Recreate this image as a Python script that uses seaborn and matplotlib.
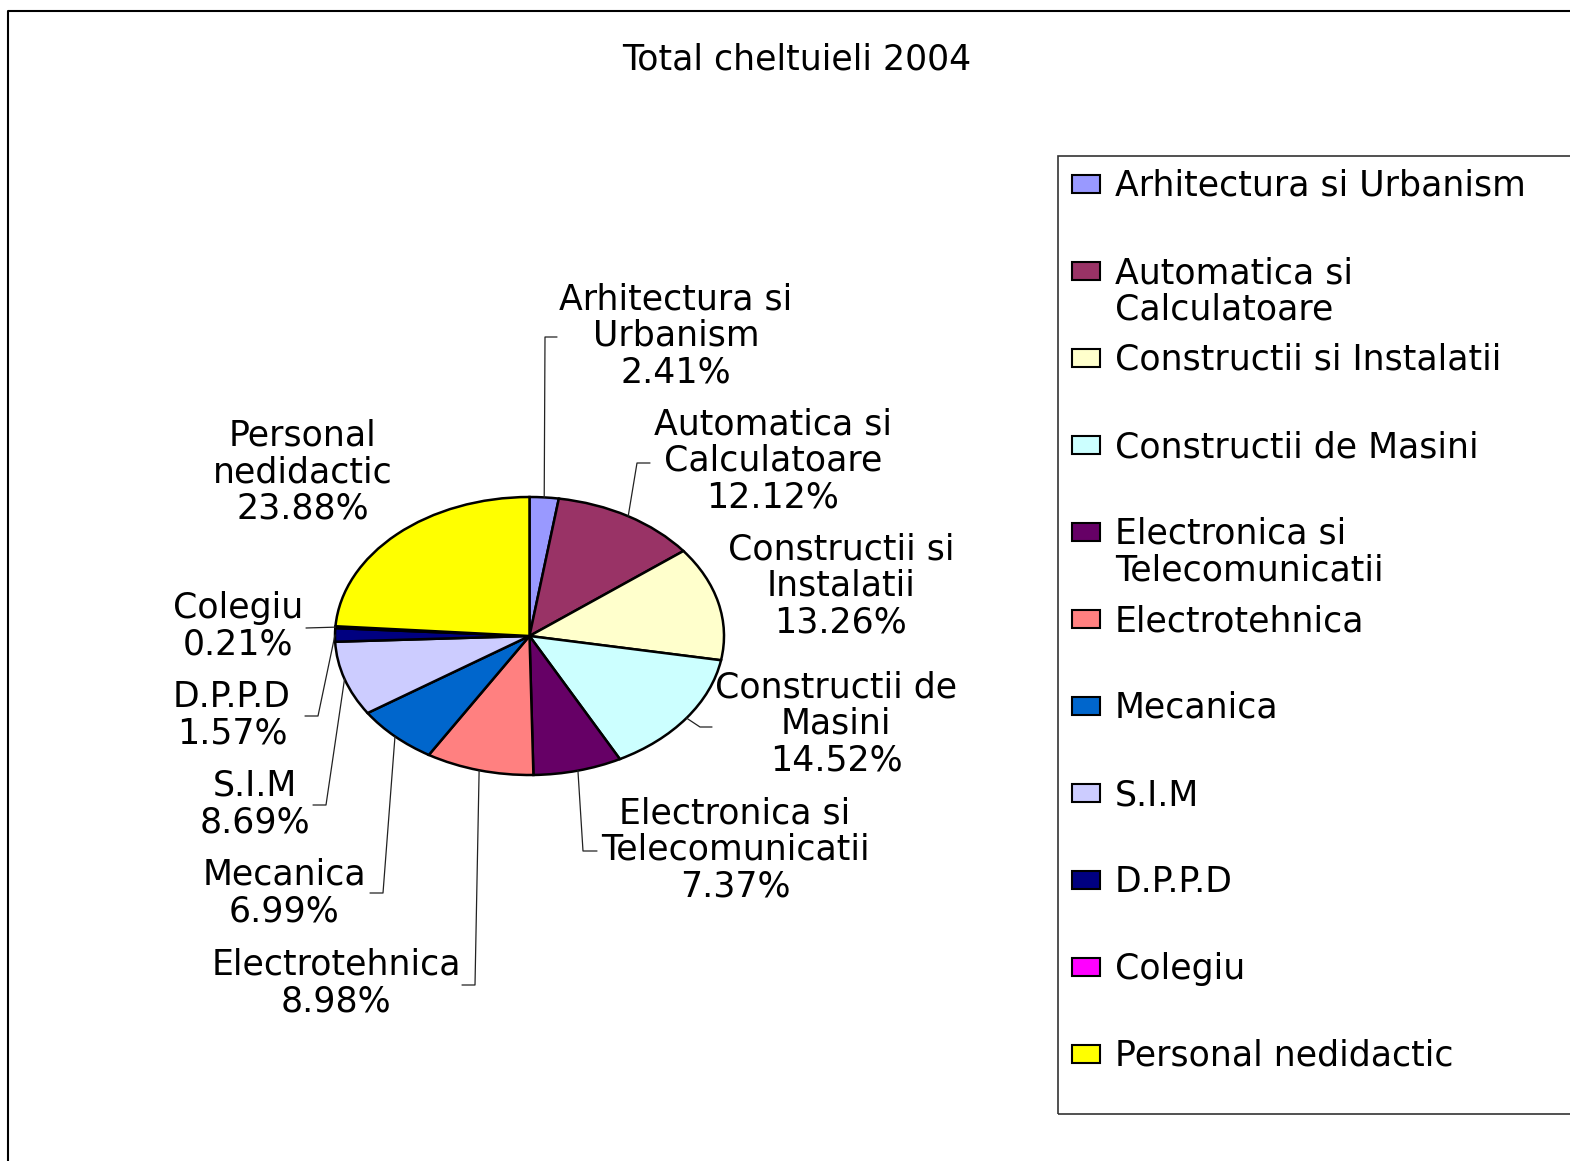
import matplotlib
matplotlib.use("Agg")
import matplotlib.pyplot as plt
import seaborn as sns
import numpy as np
from matplotlib.lines import Line2D
from matplotlib.patches import Rectangle

# ============================
# Date
# ============================
categories = [
    "Arhitectura si Urbanism",
    "Automatica si Calculatoare",
    "Constructii si Instalatii",
    "Constructii de Masini",
    "Electronica si Telecomunicatii",
    "Electrotehnica",
    "Mecanica",
    "S.I.M",
    "D.P.P.D",
    "Colegiu",
    "Personal nedidactic",
]
percent = [2.41, 12.12, 13.26, 14.52, 7.37, 8.98, 6.99, 8.69, 1.57, 0.21, 23.88]

# etichete pe grafic (text cu rupere de rand)
pie_labels = [
    "Arhitectura si\nUrbanism",
    "Automatica si\nCalculatoare",
    "Constructii si\nInstalatii",
    "Constructii de\nMasini",
    "Electronica si\nTelecomunicatii",
    "Electrotehnica",
    "Mecanica",
    "S.I.M",
    "D.P.P.D",
    "Colegiu",
    "Personal\nnedidactic",
]
legend_labels = [
    "Arhitectura si Urbanism",
    "Automatica si\nCalculatoare",
    "Constructii si Instalatii",
    "Constructii de Masini",
    "Electronica si\nTelecomunicatii",
    "Electrotehnica",
    "Mecanica",
    "S.I.M",
    "D.P.P.D",
    "Colegiu",
    "Personal nedidactic",
]

# paleta clasica Excel
palette = ["#9999FF", "#993366", "#FFFFCC", "#CCFFFF", "#660066", "#FF8080",
           "#0066CC", "#CCCCFF", "#000080", "#FF00FF", "#FFFF00"]

# ============================
# Layout (pixeli, origine stanga-sus)
# ============================
W, H = 1570, 1161
label_pos = [(676, 336), (773, 461), (841, 586), (836, 724), (735, 850),
             (336, 983), (284, 893), (255, 804), (232, 715), (238, 626),
             (303, 472)]
# punct de cot si capat pentru liniile de legatura (None = fara linie)
leaders = [((545, 337), (557, 337)),
           ((637, 463), (650, 463)),
           None,
           ((700, 727), (712, 727)),
           ((583, 851), (597, 851)),
           ((475, 985), (462, 985)),
           ((383, 893), (370, 893)),
           ((326, 805), (313, 805)),
           ((318, 716), (305, 716)),
           ((306, 628), (306, 628)),
           None]


def px(x, y):
    """Pixel (stanga-sus) -> coordonate figura"""
    return x / W, 1 - y / H


sns.set_style("white")
plt.rcParams['font.family'] = ['DejaVu Sans']
plt.rcParams['text.color'] = 'black'
FS = 25
LS = 1.08

fig = plt.figure(figsize=(W / 100, H / 100), dpi=100)

# elipsa placintei: centru (529.5, 636), raze 194.5 x 139
cx, cy, rx, ry = 529.5, 636, 194.5, 139
ax = fig.add_axes([(cx - rx) / W, 1 - (cy + ry) / H, 2 * rx / W, 2 * ry / H])
wedges, _ = ax.pie(percent, colors=palette, startangle=90, counterclock=False,
                   wedgeprops=dict(edgecolor='black', linewidth=1.8))
ax.set_aspect('auto')
ax.set_xlim(-1, 1)
ax.set_ylim(-1, 1)
ax.axis('off')

to_fig = fig.transFigure.inverted()
for w, lab, p, pos, ld in zip(wedges, pie_labels, percent, label_pos, leaders):
    fig.text(*px(*pos), f"{lab}\n{p:.2f}%", ha='center', va='center',
             fontsize=FS, linespacing=LS, multialignment='center', color='black')
    if ld is None:
        continue
    mid = np.deg2rad((w.theta1 + w.theta2) / 2)
    start = to_fig.transform(ax.transData.transform((np.cos(mid), np.sin(mid))))
    elbow = px(*ld[0])
    end = px(*ld[1])
    fig.add_artist(Line2D([start[0], elbow[0], end[0]], [start[1], elbow[1], end[1]],
                          transform=fig.transFigure, color='#222222', linewidth=0.9))

# titlu
fig.text(*px(797, 60), "Total cheltuieli 2004", ha='center', va='center',
         fontsize=FS, color='black')

# legenda desenata manual (pas constant intre intrari)
lx0, ly0, lx1, ly1 = 1058, 156, 1580, 1114
fig.add_artist(Rectangle(px(lx0, ly1), (lx1 - lx0) / W, (ly1 - ly0) / H,
                         transform=fig.transFigure, fill=False,
                         edgecolor='#333333', linewidth=1.2))
for i, (lab, col) in enumerate(zip(legend_labels, palette)):
    yc = 183 + 87.0 * i
    fig.add_artist(Rectangle(px(1072, yc + 10), 28 / W, 18 / H,
                             transform=fig.transFigure, facecolor=col,
                             edgecolor='black', linewidth=1.5))
    fig.text(*px(1115, yc - 14), lab, ha='left', va='top', fontsize=FS,
             linespacing=LS, color='black')

# chenarul exterior
fig.add_artist(Line2D([8 / W, 8 / W, 1.0], [0.0, 1 - 11 / H, 1 - 11 / H],
                      transform=fig.transFigure, color='black', linewidth=1.5))

fig.savefig("out.png", dpi=100)
